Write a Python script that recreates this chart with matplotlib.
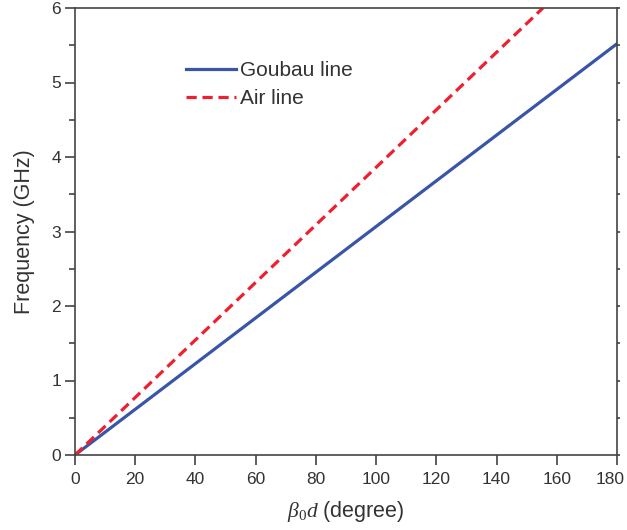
import matplotlib
matplotlib.use("Agg")
import matplotlib.pyplot as plt
from matplotlib.ticker import MultipleLocator
from matplotlib.transforms import ScaledTranslation

plt.rcParams['font.family'] = ['Liberation Sans', 'DejaVu Sans']
plt.rcParams['mathtext.fontset'] = 'custom'
plt.rcParams['mathtext.it'] = 'Liberation Serif:italic'
plt.rcParams['mathtext.rm'] = 'Liberation Serif'

goubau_x = [0, 180]
goubau_y = [0, 5.52]
air_x = [0, 155.4]
air_y = [0, 6.0]

fig = plt.figure(figsize=(6.27, 5.30), dpi=100)
ax = fig.add_axes([75/627, 1-455/530, (617-75)/627, (455-8)/530])

ax.plot(goubau_x, goubau_y, color='#3a55a8', lw=2.3, label='Goubau line')
ax.plot(air_x, air_y, color='#ee2030', lw=2.3, ls=(0, (3.2, 1.8)), label='Air line')

ax.set_xlim(0, 180)
ax.set_ylim(0, 6)
ax.xaxis.set_major_locator(MultipleLocator(20))
ax.yaxis.set_major_locator(MultipleLocator(1))
ax.yaxis.set_minor_locator(MultipleLocator(0.5))
ax.tick_params(axis='both', which='major', direction='out', length=7, width=1.1,
               labelsize=12.5, labelcolor='#333333', color='#333333', pad=3)
ax.tick_params(axis='x', which='major', pad=5)
ax.tick_params(axis='y', which='minor', direction='out', length=4.5, width=1.1, color='#333333')
ax.yaxis.set_tick_params(which='both', right=True)
for tk in ax.yaxis.get_major_ticks() + ax.yaxis.get_minor_ticks():
    tk.tick2line.set_markersize(2.5)

for sp in ax.spines.values():
    sp.set_color('#444444')
    sp.set_linewidth(1.2)

fig.canvas.draw()
for lab in ax.get_xticklabels():
    if lab.get_text() == '180':
        lab.set_transform(lab.get_transform() + ScaledTranslation(-7/100, 0, fig.dpi_scale_trans))

ax.set_ylabel('Frequency (GHz)', fontsize=15.5, color='#333333', labelpad=12)
ax.set_xlabel(r'$\beta_{\mathrm{0}}d$ (degree)', fontsize=15.5, color='#333333', labelpad=9)

leg = ax.legend(loc='upper left', bbox_to_anchor=(0.19, 0.90), frameon=False,
                fontsize=15, handlelength=2.4, handletextpad=0.2, labelspacing=0.45,
                borderaxespad=0)
for t in leg.get_texts():
    t.set_color('#333333')

fig.savefig('out.png', dpi=100)
